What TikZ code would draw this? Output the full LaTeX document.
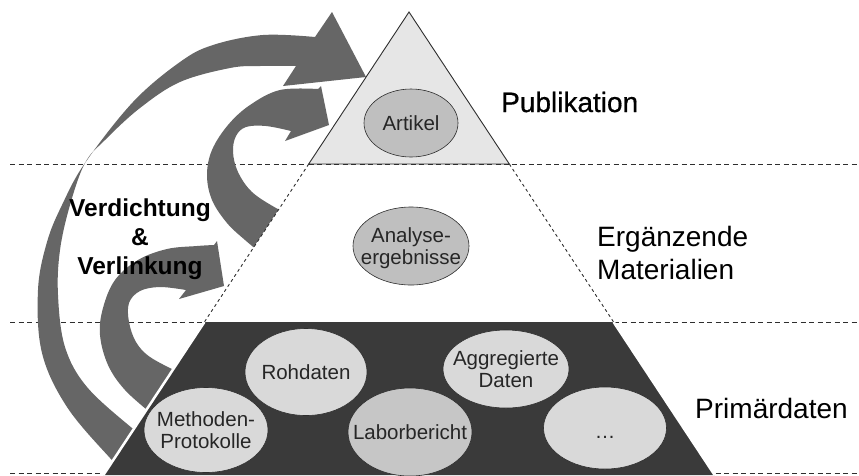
\documentclass[tikz,border=0pt]{standalone}
\usepackage{fontspec}
\setmainfont{Liberation Sans}
\newfontfamily\pubfont[FakeBold=0.6]{Liberation Sans}
\usetikzlibrary{shapes.geometric}
\definecolor{arrowgray}{HTML}{666666}
\definecolor{darkbase}{HTML}{3A3A3A}
\definecolor{topfill}{HTML}{E6E6E6}
\definecolor{ellmid}{HTML}{BFBFBF}
\definecolor{elllight}{HTML}{D9D9D9}
\definecolor{elllabor}{HTML}{C6C6C6}
\definecolor{linegray}{HTML}{2E2E2E}
\begin{document}
\begin{tikzpicture}[x=1pt,y=-1pt,
  band/.style={fill=arrowgray},
  sepline/.style={draw=linegray, line width=0.9pt, dash pattern=on 5pt off 3.5pt},
  sideline/.style={draw=linegray, line width=0.9pt, dash pattern=on 3pt off 3pt},
  blobtext/.style={inner sep=0pt, align=center, font=\fontsize{20.5}{22}\selectfont, text=black!85},
  blob/.style={ellipse, inner sep=0pt, draw=linegray, line width=0.6pt},
  midblob/.style={blob, fill=ellmid},
  lowblob/.style={blob, fill=elllight},
  layerlabel/.style={anchor=west, inner sep=0pt, align=left, font=\fontsize{28}{33}\selectfont}
]
\useasboundingbox[fill=white] (0,0) rectangle (859,475);

% horizontal separators
\coordinate (s1l) at (10,164);  \coordinate (s1r) at (859,164);
\coordinate (s2l) at (10,322);  \coordinate (s2r) at (859,322);
\coordinate (s3l) at (10,473);  \coordinate (s3r) at (859,473);
\draw[sepline] (s1l) -- (s1r);
\draw[sepline] (s2l) -- (s2r);
\draw[sepline] (s3l) -- (s3r);

% outer big arrow
\fill[band] plot[smooth, tension=0.6] coordinates {(125,472) (110,458) (67,407) (42,353) (38,290) (47,242) (62,205) (85,163) (133,102) (180,62) (213,45) (263,35) (315,37)}
  -- (332,12) -- (366,77) -- (283,86) -- (296,66)
  -- plot[smooth, tension=0.6] coordinates {(296,66) (260,66) (230,68) (180,82) (140,108) (105,140) (85,163) (70,205) (60,250) (58,295) (65,347) (87,387) (132,428) (150,440)}
  -- cycle;

% middle arrow
\fill[band] plot[smooth, tension=0.6] coordinates {(262,254) (245,240) (227,223) (212,200) (207,175) (212,150) (228,125) (250,105) (280,90) (318,89)}
  -- (321,86) -- (329,125) -- (285,141) -- (291,131)
  -- plot[smooth, tension=0.6] coordinates {(291,131) (266,126) (246,127) (236,136) (233,152) (238,172) (252,192) (276,208) (290,214)}
  -- cycle;

% lower arrow
\fill[band] plot[smooth, tension=0.6] coordinates {(152,414) (125,390) (108,365) (100,335) (103,308) (115,280) (138,260) (167,249) (197,246) (214,245)}
  -- (217,241) -- (224,286) -- (179,299) -- (186,290)
  -- plot[smooth, tension=0.6] coordinates {(186,290) (160,287) (140,291) (129,303) (129,322) (136,342) (150,357) (178,372)}
  -- cycle;

% pyramid corners
\coordinate (apex) at (409,12);
\coordinate (t1l) at (308.7,164); \coordinate (t1r) at (509.3,164);
\coordinate (t2l) at (204.4,322); \coordinate (t2r) at (613.6,322);
\coordinate (t3l) at (103.4,475); \coordinate (t3r) at (714.6,475);

% middle layer
\fill[white] (t1l) -- (t1r) -- (t2r) -- (t2l) -- cycle;
\draw[sideline] (t1l) -- (t2l);
\draw[sideline] (t1r) -- (t2r);

% bottom layer
\fill[darkbase] (t2l) -- (t2r) -- (t3r) -- (t3l) -- cycle;
\draw[white, line width=2.5pt] (t2l) -- (t3l);
\draw[white, line width=2.5pt] (t2r) -- (t3r);

% top layer
\filldraw[fill=topfill, draw=linegray, line width=0.9pt, line join=miter] (apex) -- (t1r) -- (t1l) -- cycle;
\draw[sepline] (t1l) -- (t1r);

% ellipses
\node[midblob, minimum width=94pt, minimum height=68pt, label={[blobtext]center:Artikel}] (artikel) at (411,123) {};
\node[midblob, minimum width=116pt, minimum height=78pt, label={[blobtext, yshift=-2pt]center:Analyse-\\ergebnisse}] (analyse) at (411,246) {};
\node[lowblob, minimum width=122pt, minimum height=87pt, label={[blobtext]center:Rohdaten}] (roh) at (306,372) {};
\node[lowblob, minimum width=126pt, minimum height=78pt, label={[blobtext]center:Aggregierte\\Daten}] (agg) at (506,369) {};
\node[lowblob, minimum width=124pt, minimum height=85pt, label={[blobtext]center:Methoden-\\Protokolle}] (meth) at (206,430) {};
\node[lowblob, fill=elllabor, minimum width=124pt, minimum height=88pt, label={[blobtext]center:Laborbericht}] (labor) at (410,432) {};
\node[lowblob, minimum width=123pt, minimum height=82pt, label={[blobtext, yshift=-9pt]center:\ldots}] (more) at (605,428) {};

% labels
\node[align=center, inner sep=0pt, font=\bfseries\fontsize{24.5}{29}\selectfont] (verd) at (140,239) {Verdichtung\\\&\\Verlinkung};
\node[layerlabel, font=\pubfont\fontsize{28}{33}\selectfont] (pub) at (501,102) {Publikation};
\node[layerlabel] (erg) at (597,253) {Ergänzende\\Materialien};
\node[layerlabel] (prim) at (695,408) {Primärdaten};
\end{tikzpicture}
\end{document}
